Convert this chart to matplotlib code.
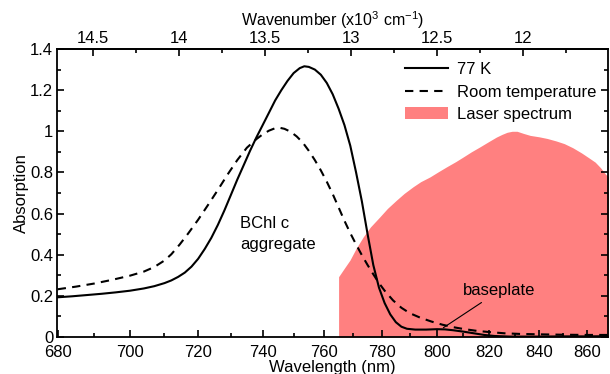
import numpy as np
import matplotlib
matplotlib.use("Agg")
import matplotlib.pyplot as plt
from matplotlib.ticker import FixedLocator, FuncFormatter, MultipleLocator
from matplotlib.patches import Patch
from matplotlib.lines import Line2D

plt.rcParams['font.family'] = ['Liberation Sans', 'DejaVu Sans']
plt.rcParams['mathtext.fontset'] = 'custom'
plt.rcParams['mathtext.rm'] = 'Liberation Sans'
plt.rcParams['mathtext.default'] = 'regular'

# ---- data (wavelength in nm) ----
k77_nm = [680, 684, 688, 692, 696, 700, 704, 707, 710, 712, 714, 716, 718, 720,
          722, 724, 726, 728, 730, 732, 734, 736, 738, 740, 742, 744, 746, 748,
          750, 752, 753.5, 755, 757, 759, 761, 763, 765, 767, 769, 771, 773, 775,
          777, 779, 781, 783, 785, 787, 789, 792, 796, 800, 803, 806, 810, 814,
          818, 822, 828, 840, 850, 860, 870]
k77_abs = [0.193, 0.198, 0.204, 0.210, 0.217, 0.225, 0.236, 0.247, 0.262, 0.275,
           0.292, 0.313, 0.342, 0.38, 0.428, 0.482, 0.545, 0.615, 0.69, 0.765,
           0.835, 0.905, 0.97, 1.03, 1.09, 1.15, 1.2, 1.245, 1.283, 1.307,
           1.316, 1.313, 1.30, 1.275, 1.235, 1.18, 1.11, 1.03, 0.93, 0.80, 0.66,
           0.50, 0.35, 0.24, 0.165, 0.11, 0.072, 0.05, 0.04, 0.036, 0.036, 0.038,
           0.037, 0.033, 0.026, 0.018, 0.01, 0.005, 0.002, 0.002, 0.003, 0.003,
           0.004]

rt_nm = [680, 685, 690, 695, 700, 704, 707, 710, 712, 714.5, 717, 720, 723, 726,
         729, 732, 735, 738, 740, 742, 744, 745.5, 747, 749, 751, 753, 755, 757,
         759, 761, 763, 765, 767, 769, 771, 773, 775, 777, 779, 781, 784, 787,
         790, 794, 798, 802, 806, 810, 815, 820, 826, 832, 840, 850, 860, 870]
rt_abs = [0.232, 0.245, 0.26, 0.278, 0.298, 0.318, 0.34, 0.372, 0.402, 0.45,
          0.503, 0.57, 0.642, 0.715, 0.79, 0.86, 0.92, 0.962, 0.985, 1.003, 1.015,
          1.017, 1.012, 0.998, 0.975, 0.945, 0.905, 0.86, 0.81, 0.755, 0.695,
          0.63, 0.565, 0.505, 0.45, 0.398, 0.35, 0.305, 0.262, 0.225, 0.178, 0.142,
          0.116, 0.093, 0.075, 0.06, 0.048, 0.039, 0.03, 0.024, 0.018, 0.015, 0.013,
          0.011, 0.01, 0.01]

laser_nm = [765.0, 767, 768.9, 771, 773.5, 776, 779.3, 782, 785.2, 788, 791.2,
            794, 797.4, 800.5, 803.6, 807, 809.9, 813, 816.3, 819.5, 822.8, 825,
            827, 829, 831, 833.5, 836.3, 840, 843.3, 847, 850.4, 854, 857.7, 861,
            863.6, 866, 868.1, 871]
laser_int = [0.293, 0.335, 0.374, 0.43, 0.487, 0.535, 0.584, 0.625, 0.665, 0.698,
             0.73, 0.755, 0.778, 0.803, 0.827, 0.852, 0.875, 0.9, 0.924, 0.948,
             0.972, 0.985, 0.995, 1.0, 1.0, 0.99, 0.98, 0.973, 0.965, 0.953, 0.94,
             0.92, 0.895, 0.87, 0.85, 0.822, 0.792, 0.76]

wl_ticks = [680, 700, 720, 740, 760, 780, 800, 820, 840, 860]
wl_minor = [690, 710, 730, 750, 770, 790, 810, 830, 850]
wn_ticks = [14.5, 14, 13.5, 13, 12.5, 12]
wn_minor = [14.75, 14.25, 13.75, 13.25, 12.75, 12.25, 11.75]


def to_wn(nm):
    return 1e4 / np.asarray(nm, dtype=float)


fig = plt.figure(figsize=(6.10, 3.74), dpi=100)
W, H = 610, 374
ax = fig.add_axes([57.3 / W, 1 - 337 / H, (608 - 57.3) / W, (337 - 49) / H])

ax.fill_between(to_wn(laser_nm), 0, laser_int, color='#ff8080', lw=0, zorder=1)
ax.plot(to_wn(k77_nm), k77_abs, color='black', lw=1.5, zorder=3)
ax.plot(to_wn(rt_nm), rt_abs, color='black', lw=1.5, dashes=(4, 3), zorder=3)

ax.set_xlim(1e4 / 679.9, 1e4 / 869.2)
ax.set_ylim(0, 1.4)

ax.xaxis.set_major_locator(FixedLocator(to_wn(wl_ticks)))
ax.xaxis.set_minor_locator(FixedLocator(to_wn(wl_minor)))
ax.xaxis.set_major_formatter(FuncFormatter(lambda v, p: f"{1e4 / v:.0f}"))
ax.yaxis.set_major_locator(MultipleLocator(0.2))
ax.yaxis.set_minor_locator(MultipleLocator(0.1))
ax.yaxis.set_major_formatter(FuncFormatter(lambda v, p: f"{v:g}"))

ax.tick_params(which='both', direction='in', width=1.2, labelsize=12, pad=3,
               right=True, top=False)
ax.tick_params(axis='x', which='both', pad=5.5)
ax.tick_params(which='major', length=5)
ax.tick_params(which='minor', length=3)
for s in ax.spines.values():
    s.set_linewidth(1.3)

sec = ax.secondary_xaxis('top')
sec.xaxis.set_major_locator(FixedLocator(wn_ticks))
sec.xaxis.set_minor_locator(FixedLocator(wn_minor))
sec.xaxis.set_major_formatter(FuncFormatter(lambda v, p: f"{v:g}"))
sec.tick_params(which='both', direction='in', width=1.2, labelsize=12, pad=2)
sec.tick_params(which='major', length=5)
sec.tick_params(which='minor', length=3)
sec.spines['top'].set_linewidth(1.3)
sec.set_xlabel(r'Wavenumber (x10$^{3}$ cm$^{-1}$)', fontsize=11.5, labelpad=3.5)

ax.set_xlabel('Wavelength (nm)', fontsize=12, labelpad=0.5)
ax.set_ylabel('Absorption', fontsize=12, labelpad=1)

ax.text(1e4 / 733.0, 0.59, 'BChl c\naggregate', fontsize=12, ha='left', va='top',
        linespacing=1.55)
ax.annotate('baseplate', xy=(1e4 / 802.4, 0.045), xytext=(1e4 / 809.9, 0.225),
            fontsize=12, ha='left', va='center',
            arrowprops=dict(arrowstyle='-', lw=0.8, color='black',
                            shrinkA=2, shrinkB=0))

handles = [Line2D([], [], color='black', lw=1.5),
           Line2D([], [], color='black', lw=1.5, dashes=(4, 3)),
           Patch(facecolor='#ff8080', edgecolor='none')]
labels = ['77 K', 'Room temperature', 'Laser spectrum']
ax.legend(handles, labels, loc='upper left', bbox_to_anchor=(405 / W, 1 - 62 / H),
          bbox_transform=fig.transFigure, frameon=False, fontsize=12,
          borderpad=0, borderaxespad=0, handlelength=2.6, handletextpad=0.5,
          labelspacing=0.45)

fig.savefig('out.png', dpi=100)
